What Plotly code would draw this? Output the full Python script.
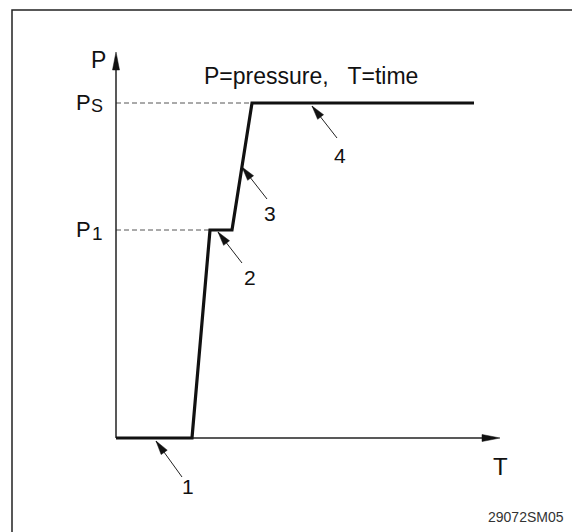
import numpy as np
import plotly.graph_objects as go

# ---- data (T = time, P = pressure; arbitrary units) ----
T = [0, 76, 94, 116, 136, 358]
P = [0, 0, 208, 208, 335, 335]
P1 = 208
PS = 335
T_AT_P1 = 94
T_AT_PS = 136
T_AXIS_END = 384
P_AXIS_END = 386

callout_labels = ["1", "2", "3", "4"]
callout_tip_T = [40, 102, 126, 196]
callout_tip_P = [-3, 206, 271, 332]
callout_tail_T = [66, 126, 151, 221]
callout_tail_P = [-39, 175, 239, 300]
callout_text_T = [72, 134, 154, 224]
callout_text_P = [-48, 161, 225, 283]

title_text = "P=pressure,   T=time"
code_text = "29072SM05"

FONT = "Liberation Sans, Arial, Helvetica, sans-serif"
INK = "#111111"


def head(tx, ty, sx, sy, length, width):
    d = np.array([tx - sx, ty - sy], dtype=float)
    d /= np.linalg.norm(d)
    n = np.array([-d[1], d[0]])
    base = np.array([tx, ty]) - d * length
    a = base + n * width / 2
    b = base - n * width / 2
    return [tx, a[0], b[0], tx], [ty, a[1], b[1], ty]


fig = go.Figure()

# dashed reference lines
for pv, tv in [(P1, T_AT_P1), (PS, T_AT_PS)]:
    fig.add_trace(go.Scatter(x=[0, tv], y=[pv, pv], mode="lines",
                             line=dict(color="#555555", width=1, dash="5px,3px"),
                             hoverinfo="skip"))

# axes
fig.add_trace(go.Scatter(x=[0, 0], y=[0, P_AXIS_END - 10], mode="lines",
                         line=dict(color="#222222", width=1.5), hoverinfo="skip"))
fig.add_trace(go.Scatter(x=[0, T_AXIS_END - 10], y=[0, 0], mode="lines",
                         line=dict(color="#222222", width=1.5), hoverinfo="skip"))
hx, hy = head(0, P_AXIS_END, 0, 0, 18, 7)
fig.add_trace(go.Scatter(x=hx, y=hy, mode="lines", fill="toself", fillcolor="#111111",
                         line=dict(color="#111111", width=0.5), hoverinfo="skip"))
hx, hy = head(T_AXIS_END, 0, 0, 0, 18, 7)
fig.add_trace(go.Scatter(x=hx, y=hy, mode="lines", fill="toself", fillcolor="#111111",
                         line=dict(color="#111111", width=0.5), hoverinfo="skip"))

# pressure curve
fig.add_trace(go.Scatter(x=T, y=P, mode="lines",
                         line=dict(color="#111111", width=3.2), hoverinfo="skip"))

# callout arrows
for i in range(len(callout_labels)):
    fig.add_trace(go.Scatter(x=[callout_tail_T[i], callout_tip_T[i]],
                             y=[callout_tail_P[i], callout_tip_P[i]], mode="lines",
                             line=dict(color="#222222", width=1), hoverinfo="skip"))
    hx, hy = head(callout_tip_T[i], callout_tip_P[i], callout_tail_T[i], callout_tail_P[i], 14, 7.5)
    fig.add_trace(go.Scatter(x=hx, y=hy, mode="lines", fill="toself", fillcolor="#111111",
                             line=dict(color="#111111", width=0.5), hoverinfo="skip"))

annotations = []
for i, lab in enumerate(callout_labels):
    annotations.append(dict(x=callout_text_T[i], y=callout_text_P[i], text=lab,
                            showarrow=False, xref="x", yref="y",
                            font=dict(family=FONT, size=21, color=INK)))

annotations += [
    dict(x=-18, y=378, text="P", showarrow=False, xref="x", yref="y",
         font=dict(family=FONT, size=23, color=INK)),
    dict(x=384, y=-28, text="T", showarrow=False, xref="x", yref="y",
         font=dict(family=FONT, size=24, color=INK)),
    # P_S label
    dict(x=-23, y=PS + 1, text="P", showarrow=False, xref="x", yref="y",
         xanchor="right", font=dict(family=FONT, size=22, color=INK)),
    dict(x=-27, y=PS - 3, text="S", showarrow=False, xref="x", yref="y",
         xanchor="left", font=dict(family=FONT, size=18, color=INK)),
    # P_1 label
    dict(x=-23, y=P1 + 1, text="P", showarrow=False, xref="x", yref="y",
         xanchor="right", font=dict(family=FONT, size=22, color=INK)),
    dict(x=-26, y=P1 - 3, text="1", showarrow=False, xref="x", yref="y",
         xanchor="left", font=dict(family=FONT, size=19, color=INK)),
    dict(x=86, y=362, text=title_text, showarrow=False, xref="x", yref="y",
         xanchor="left", font=dict(family=FONT, size=23, color=INK)),
    dict(x=566 / 572, y=0.01, text=code_text, showarrow=False, xref="paper", yref="paper",
         xanchor="right", yanchor="bottom", font=dict(family=FONT, size=14, color="#333333")),
]

fig.update_layout(
    width=572, height=532,
    margin=dict(l=0, r=0, t=0, b=0),
    paper_bgcolor="white", plot_bgcolor="white",
    showlegend=False,
    xaxis=dict(range=[-116, 456], visible=False, fixedrange=True),
    yaxis=dict(range=[-94, 438], visible=False, fixedrange=True),
    annotations=annotations,
    shapes=[dict(type="rect", xref="paper", yref="paper",
                 x0=12 / 572, x1=1.05, y0=-0.05, y1=1 - 10 / 532,
                 line=dict(color="#222222", width=1.5))],
)

fig.write_html("out.html", config={"displayModeBar": False},
               post_script="document.body.style.margin='0';document.body.style.overflow='hidden';")
